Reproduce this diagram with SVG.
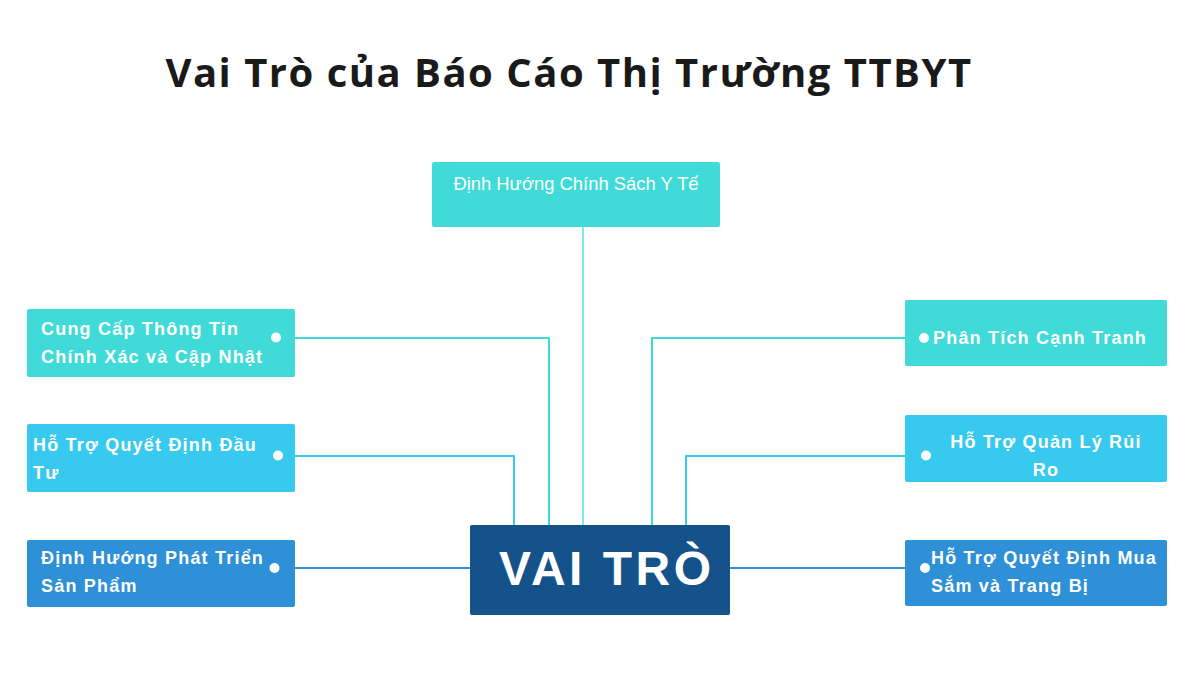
<svg xmlns="http://www.w3.org/2000/svg" width="1200" height="690" viewBox="0 0 1200 690">
<style>
.t{font-family:"Liberation Sans",Arial,sans-serif;font-weight:bold;font-size:18px;fill:#ffffff;letter-spacing:1.2px}
.title{font-family:"Open Sans","Noto Sans",sans-serif;font-weight:bold;font-size:40px;fill:#1a1a1a;letter-spacing:1.5px}
.c{fill:none;stroke-width:2}
.dot{fill:#ffffff}
</style>
<rect width="1200" height="690" fill="#ffffff"/>
<text class="title" x="569" y="87" text-anchor="middle">Vai Trò của Báo Cáo Thị Trường TTBYT</text>
<g id="connectors">
<path class="c" stroke="#80EAE8" d="M583 227V525"/>
<path class="c" stroke="#40DBD8" d="M295 338H549V525"/>
<path class="c" stroke="#38C9EF" d="M295 456H514V525"/>
<path class="c" stroke="#2E90D6" d="M295 568H470"/>
<path class="c" stroke="#40DBD8" d="M905 338H652V525"/>
<path class="c" stroke="#38C9EF" d="M905 456H686V525"/>
<path class="c" stroke="#2E90D6" d="M730 568H905"/>
</g>
<g id="node-top">
<rect x="432" y="162" width="288" height="65" rx="2" fill="#40DBD8"/>
<text x="576" y="190" text-anchor="middle" style="font-family:'Liberation Sans',Arial,sans-serif;font-size:18.4px;fill:#ffffff">Định Hướng Chính Sách Y Tế</text>
</g>
<g id="node-center">
<rect x="470" y="525" width="260" height="90" rx="2" fill="#15528A"/>
<text x="499" y="585" style="font-family:'Liberation Sans',Arial,sans-serif;font-weight:bold;font-size:48px;fill:#ffffff;letter-spacing:3.5px">VAI TRÒ</text>
</g>
<g id="node-l1">
<rect x="27" y="309" width="268" height="68" rx="2" fill="#40DBD8"/>
<text class="t" x="41" y="335">Cung Cấp Thông Tin</text>
<text class="t" x="41" y="363">Chính Xác và Cập Nhật</text>
<circle class="dot" cx="276" cy="337.5" r="5"/>
</g>
<g id="node-l2">
<rect x="27" y="424" width="268" height="68" rx="2" fill="#38C9EF"/>
<text class="t" x="33" y="451">Hỗ Trợ Quyết Định Đầu</text>
<text class="t" x="33" y="479">Tư</text>
<circle class="dot" cx="278" cy="455.5" r="5"/>
</g>
<g id="node-l3">
<rect x="27" y="540" width="268" height="67" rx="2" fill="#2E90D6"/>
<text class="t" x="41" y="564">Định Hướng Phát Triển</text>
<text class="t" x="41" y="592">Sản Phẩm</text>
<circle class="dot" cx="274.5" cy="568" r="5"/>
</g>
<g id="node-r1">
<rect x="905" y="300" width="262" height="66" rx="2" fill="#40DBD8"/>
<text class="t" x="933" y="344">Phân Tích Cạnh Tranh</text>
<circle class="dot" cx="924" cy="338" r="5"/>
</g>
<g id="node-r2">
<rect x="905" y="415" width="262" height="67" rx="2" fill="#38C9EF"/>
<text class="t" x="1046" y="448" text-anchor="middle">Hỗ Trợ Quản Lý Rủi</text>
<text class="t" x="1046" y="476" text-anchor="middle">Ro</text>
<circle class="dot" cx="926" cy="455.5" r="5"/>
</g>
<g id="node-r3">
<rect x="905" y="540" width="262" height="66" rx="2" fill="#2E90D6"/>
<text class="t" x="931" y="564">Hỗ Trợ Quyết Định Mua</text>
<text class="t" x="931" y="592">Sắm và Trang Bị</text>
<circle class="dot" cx="925" cy="568" r="5"/>
</g>
</svg>
